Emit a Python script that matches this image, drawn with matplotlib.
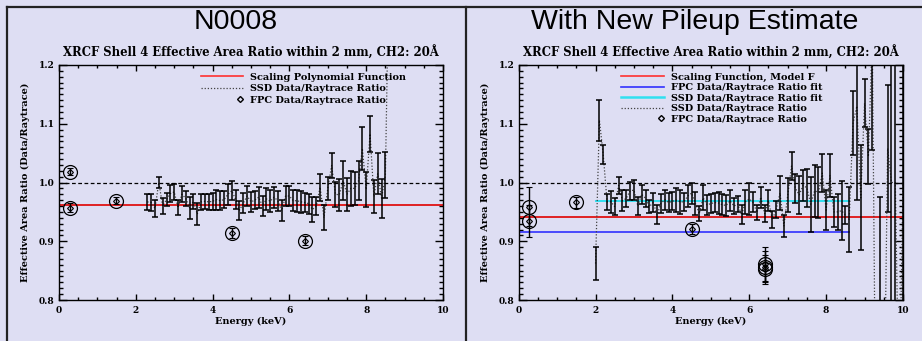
import matplotlib
matplotlib.use("Agg")
import matplotlib.pyplot as plt
from matplotlib.lines import Line2D
from matplotlib.legend_handler import HandlerLine2D
from matplotlib.ticker import MultipleLocator

BG = "#dedef3"
IDL_FONT = "DejaVu Serif"

# ---- data ----
ssd_energy_left = [2.3, 2.4, 2.5, 2.6, 2.7, 2.8, 2.9, 3.0, 3.1, 3.2, 3.3, 3.4, 3.5,
                   3.6, 3.7, 3.8, 3.9, 4.0, 4.1, 4.2, 4.3, 4.4, 4.5, 4.6, 4.7, 4.8,
                   4.9, 5.0, 5.1, 5.2, 5.3, 5.4, 5.5, 5.6, 5.7, 5.8, 5.9, 6.0, 6.1,
                   6.2, 6.3, 6.4, 6.5, 6.6, 6.7, 6.8, 6.9, 7.0, 7.1, 7.2, 7.3, 7.4,
                   7.5, 7.6, 7.7, 7.8, 7.9, 8.0, 8.1, 8.2, 8.3, 8.4, 8.5, 8.6]
ssd_ratio_left = [0.967, 0.966, 0.956, 1.000, 0.960, 0.971, 0.981, 0.984, 0.957, 0.980,
                  0.973, 0.957, 0.968, 0.946, 0.967, 0.968, 0.967, 0.968, 0.971, 0.969,
                  0.971, 0.980, 0.986, 0.971, 0.953, 0.965, 0.977, 0.967, 0.970, 0.975,
                  0.960, 0.972, 0.968, 0.975, 0.969, 0.952, 0.977, 0.977, 0.969, 0.969,
                  0.967, 0.966, 0.964, 0.954, 0.960, 0.992, 0.940, 0.990, 1.029, 0.980,
                  0.979, 1.003, 0.980, 0.990, 0.990, 1.003, 1.058, 0.988, 1.083, 0.976,
                  1.015, 0.973, 1.013, 1.400]
ssd_err_left = [0.013, 0.015, 0.014, 0.010, 0.014, 0.011, 0.015, 0.013, 0.013, 0.014,
                0.013, 0.019, 0.013, 0.019, 0.014, 0.013, 0.013, 0.014, 0.017, 0.016,
                0.015, 0.018, 0.016, 0.016, 0.016, 0.017, 0.017, 0.017, 0.015, 0.018,
                0.017, 0.018, 0.019, 0.018, 0.017, 0.018, 0.017, 0.017, 0.018, 0.019,
                0.019, 0.016, 0.017, 0.022, 0.016, 0.023, 0.021, 0.020, 0.021, 0.021,
                0.027, 0.033, 0.028, 0.030, 0.028, 0.033, 0.037, 0.030, 0.031, 0.028,
                0.035, 0.033, 0.039, 0.050]

ssd_energy_right = [2.0, 2.1, 2.2, 2.3, 2.4, 2.5, 2.6, 2.7, 2.8, 2.9, 3.0, 3.1, 3.2,
                    3.3, 3.4, 3.5, 3.6, 3.7, 3.8, 3.9, 4.0, 4.1, 4.2, 4.3, 4.4, 4.5,
                    4.6, 4.7, 4.8, 4.9, 5.0, 5.1, 5.2, 5.3, 5.4, 5.5, 5.6, 5.7, 5.8,
                    5.9, 6.0, 6.1, 6.2, 6.3, 6.4, 6.5, 6.6, 6.7, 6.8, 6.9, 7.0, 7.1,
                    7.2, 7.3, 7.4, 7.5, 7.6, 7.7, 7.8, 7.9, 8.0, 8.1, 8.2, 8.3, 8.4,
                    8.5, 8.6, 8.7, 8.8, 8.9, 9.0, 9.1, 9.2, 9.3, 9.4, 9.5, 9.6, 9.7,
                    9.8, 9.9, 10.0]
ssd_ratio_right = [0.862, 1.106, 1.047, 0.967, 0.967, 0.959, 0.995, 0.969, 0.973, 0.986,
                   0.987, 0.960, 0.980, 0.973, 0.959, 0.966, 0.945, 0.964, 0.971, 0.966,
                   0.968, 0.970, 0.967, 0.967, 0.977, 0.982, 0.964, 0.947, 0.974, 0.962,
                   0.964, 0.966, 0.965, 0.962, 0.961, 0.969, 0.960, 0.963, 0.945, 0.967,
                   0.972, 0.966, 0.949, 0.975, 0.947, 0.969, 0.937, 0.954, 0.982, 0.926,
                   0.978, 1.028, 0.990, 0.979, 0.995, 0.991, 0.963, 0.986, 0.983, 1.016,
                   0.953, 1.012, 0.950, 0.950, 0.952, 0.945, 0.937, 1.101, 1.130, 0.974,
                   1.135, 1.044, 1.250, 0.500, 0.700, 0.550, 1.058, 1.000, 1.000, 0.600,
                   1.000]
ssd_err_right = [0.028, 0.035, 0.016, 0.014, 0.019, 0.014, 0.014, 0.018, 0.015, 0.015,
                 0.017, 0.015, 0.016, 0.015, 0.011, 0.016, 0.016, 0.016, 0.017, 0.016,
                 0.015, 0.020, 0.020, 0.015, 0.018, 0.018, 0.020, 0.013, 0.021, 0.017,
                 0.016, 0.016, 0.018, 0.018, 0.018, 0.018, 0.013, 0.014, 0.016, 0.020,
                 0.027, 0.017, 0.013, 0.018, 0.014, 0.018, 0.015, 0.015, 0.029, 0.019,
                 0.029, 0.024, 0.025, 0.032, 0.026, 0.032, 0.047, 0.044, 0.044, 0.032,
                 0.034, 0.036, 0.025, 0.031, 0.050, 0.015, 0.056, 0.055, 0.160, 0.089,
                 0.041, 0.047, 0.195, 0.050, 0.275, 0.050, 0.108, 0.500, 0.400, 0.050,
                 0.500]

fpc_energy_left = [0.277, 0.277, 1.49, 4.51, 6.40]
fpc_ratio_left = [1.018, 0.957, 0.969, 0.914, 0.901]
fpc_err_left = [0.006, 0.008, 0.006, 0.009, 0.008]

fpc_energy_right = [0.277, 0.277, 1.49, 4.51, 6.40, 6.40, 6.40]
fpc_ratio_right = [0.959, 0.934, 0.966, 0.921, 0.861, 0.857, 0.852]
fpc_err_right = [0.033, 0.027, 0.010, 0.009, 0.029, 0.027, 0.024]

scaling_left = 0.962
scaling_right = 0.942
fpc_fit_right = 0.916
ssd_fit_right = 0.968
fit_range_fpc = [0.0, 8.6]
fit_range_ssd = [2.0, 8.6]

panel_titles = ["N0008", "With New Pileup Estimate"]
plot_title = "XRCF Shell 4 Effective Area Ratio within 2 mm, CH2: 20\u00c5"


class MarkerAtEnd(HandlerLine2D):
    # IDL puts the legend symbol right next to the text;
    # with numpoints=1 the marker sits in the middle of xdata
    def get_xdata(self, legend, xdescent, ydescent, width, height, fontsize):
        x_m = -xdescent + width - 0.3 * fontsize
        return [x_m - 1, x_m + 1], [x_m]


def setup_axes(ax):
    ax.set_facecolor("none")
    ax.set_xlim(0, 10)
    ax.set_ylim(0.8, 1.2)
    ax.xaxis.set_major_locator(MultipleLocator(2))
    ax.xaxis.set_minor_locator(MultipleLocator(0.5))
    ax.yaxis.set_major_locator(MultipleLocator(0.1))
    ax.yaxis.set_minor_locator(MultipleLocator(0.01))
    ax.tick_params(which="both", direction="in", top=True, right=True,
                   width=1, colors="black")
    ax.tick_params(axis="x", which="major", length=4, pad=4)
    ax.tick_params(axis="x", which="minor", length=2)
    ax.tick_params(axis="y", which="major", length=6, pad=3)
    ax.tick_params(axis="y", which="minor", length=3)
    ax.yaxis.set_major_formatter(plt.FuncFormatter(lambda v, p: f"{v:.1f}"))
    ax.xaxis.set_major_formatter(plt.FuncFormatter(lambda v, p: f"{v:.0f}"))
    for lbl in ax.get_xticklabels() + ax.get_yticklabels():
        lbl.set_fontfamily(IDL_FONT)
        lbl.set_fontweight("bold")
        lbl.set_fontsize(6.5)
    for sp in ax.spines.values():
        sp.set_linewidth(1.0)
    ax.set_xlabel("Energy (keV)", fontfamily=IDL_FONT, fontweight="bold",
                  fontsize=7, labelpad=2)
    ax.set_ylabel("Effective Area Ratio (Data/Raytrace)", fontfamily=IDL_FONT,
                  fontweight="bold", fontsize=7, labelpad=6)
    ax.set_title(plot_title, fontfamily=IDL_FONT, fontweight="bold",
                 fontsize=8.4, pad=6)
    ax.axhline(1.0, color="black", ls=(0, (3, 2)), lw=0.9)


def plot_ssd(ax, energy, ratio, err):
    ax.plot(energy, ratio, color="#444444", ls=(0, (1, 1.5)), lw=0.9)
    ax.errorbar(energy, ratio, yerr=err, fmt="none", ecolor="black",
                elinewidth=1.1, capsize=2.0, capthick=1.1)


def plot_fpc(ax, energy, ratio, err):
    ax.errorbar(energy, ratio, yerr=err, fmt="D", ms=3, mfc="none", mec="black",
                mew=0.8, ecolor="black", elinewidth=1.0, capsize=2, capthick=1.0)
    ax.plot(energy, ratio, "o", ms=10, mfc="none", mec="black", mew=0.9)


fig = plt.figure(figsize=(9.22, 3.41), dpi=100, facecolor=BG)

ax1 = fig.add_axes([59 / 922, 41 / 341, 384 / 922, 235 / 341])
setup_axes(ax1)
ax1.axhline(scaling_left, color="#e00000", lw=1.2)
plot_ssd(ax1, ssd_energy_left, ssd_ratio_left, ssd_err_left)
plot_fpc(ax1, fpc_energy_left, fpc_ratio_left, fpc_err_left)

h_red = Line2D([], [], color="#ff3030", lw=1.2)
h_ssd = Line2D([], [], color="#444444", ls=(0, (1, 1.5)), lw=0.9)
h_fpc = Line2D([], [], marker="D", ms=3, mfc="none", mec="black", ls="none")
ax1.legend([h_red, h_ssd, h_fpc],
           ["Scaling Polynomial Function", "SSD Data/Raytrace Ratio",
            "FPC Data/Raytrace Ratio"],
           loc="upper left", bbox_to_anchor=(0.35, 1.0), frameon=False,
           handlelength=4.3, handletextpad=0.7, labelspacing=0.25,
           borderpad=0.3, prop={"family": IDL_FONT, "weight": "bold", "size": 7},
           handler_map={h_fpc: MarkerAtEnd(numpoints=1)})

ax2 = fig.add_axes([518.7 / 922, 41 / 341, 384.3 / 922, 235 / 341])
setup_axes(ax2)
ax2.axhline(scaling_right, color="#e00000", lw=1.2)
ax2.plot(fit_range_fpc, [fpc_fit_right, fpc_fit_right], color="#3030ff", lw=1.2)
ax2.plot(fit_range_ssd, [ssd_fit_right, ssd_fit_right], color="#30e0f0", lw=1.4)
plot_ssd(ax2, ssd_energy_right, ssd_ratio_right, ssd_err_right)
plot_fpc(ax2, fpc_energy_right, fpc_ratio_right, fpc_err_right)

h_blue = Line2D([], [], color="#3030ff", lw=1.2)
h_cyan = Line2D([], [], color="#30e0f0", lw=1.8)
ax2.legend([h_red, h_blue, h_cyan, h_ssd, h_fpc],
           ["Scaling Function, Model F", "FPC Data/Raytrace Ratio fit",
            "SSD Data/Raytrace Ratio fit", "SSD Data/Raytrace Ratio",
            "FPC Data/Raytrace Ratio"],
           loc="upper left", bbox_to_anchor=(0.245, 1.0), frameon=False,
           handlelength=4.5, handletextpad=0.7, labelspacing=0.15,
           borderpad=0.3, prop={"family": IDL_FONT, "weight": "bold", "size": 7},
           handler_map={h_fpc: MarkerAtEnd(numpoints=1)})

# panel headings and frame lines
fig.text(236 / 922, 1 - 22 / 341, panel_titles[0], ha="center", va="center",
         fontfamily="Liberation Sans", fontsize=20.5)
fig.text(695 / 922, 1 - 22 / 341, panel_titles[1], ha="center", va="center",
         fontfamily="Liberation Sans", fontsize=20.5)
frame_kw = dict(color="#222222", lw=1.6, transform=fig.transFigure)
fig.add_artist(Line2D([7 / 922, 1], [1 - 7 / 341, 1 - 7 / 341], **frame_kw))
fig.add_artist(Line2D([7 / 922, 7 / 922], [0, 1 - 7 / 341], **frame_kw))
fig.add_artist(Line2D([466 / 922, 466 / 922], [0, 1 - 7 / 341], **frame_kw))

fig.savefig("out.png", dpi=100, facecolor=BG)
